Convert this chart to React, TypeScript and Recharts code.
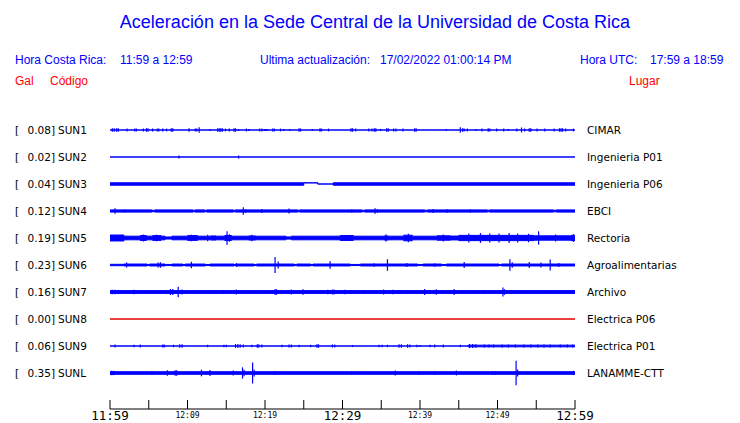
import React from 'react';
import { Area, ComposedChart, ErrorBar, Scatter, XAxis, YAxis } from 'recharts';

// estaciones, de arriba hacia abajo
const stations = ['SUN1', 'SUN2', 'SUN3', 'SUN4', 'SUN5', 'SUN6', 'SUN7', 'SUN8', 'SUN9', 'SUNL'];
const peaks = [0.08, 0.02, 0.04, 0.12, 0.19, 0.23, 0.16, 0.0, 0.06, 0.35];
const places = [
  'CIMAR', 'Ingenieria P01', 'Ingenieria P06', 'EBCI', 'Rectoria',
  'Agroalimentarias', 'Archivo', 'Electrica P06', 'Electrica P01', 'LANAMME-CTT',
];

// eje de tiempo: minutos desde 11:59
const tickMinutes = [0, 5, 10, 15, 20, 25, 30, 35, 40, 45, 50, 55, 60];
const tickLabels = ['11:59', '', '12:09', '', '12:19', '', '12:29', '', '12:39', '', '12:49', '', '12:59'];
const bigTickMinutes = [0, 30, 60];

// ruido de fondo: [minuto inicial, amplitud (gal), desplazamiento (gal)]
type Seg = [number, number, number?];
const sun1Band: Seg[] = [[0, 0]];
const sun2Band: Seg[] = [[0, 0]];
const sun3Band: Seg[] = [[0, 0.035], [25.0, 0, 0.033], [26.8, 0, 0], [28.8, 0.035]];
const sun4Band: Seg[] = [
  [0, 0.032], [5.4, 0.02], [5.8, 0.032], [10.7, 0.022], [11.0, 0.032], [12.2, 0.022], [12.5, 0.032],
  [15.9, 0.022], [16.2, 0.032], [24.2, 0.022], [24.5, 0.032], [32.5, 0.022], [32.9, 0.032],
  [40.6, 0.022], [41.0, 0.032], [48.7, 0.022], [49.0, 0.032], [57.2, 0.022], [57.6, 0.032],
];
const sun5Band: Seg[] = [
  [0, 0.085], [1.8, 0.052], [3.9, 0.07], [4.7, 0.052], [5.5, 0.068], [6.6, 0.052], [7.1, 0.03], [8.0, 0.052],
  [10.0, 0.068], [11.3, 0.052], [13.0, 0.06], [13.7, 0.052], [14.8, 0.07], [15.7, 0.052], [17.9, 0.06],
  [18.8, 0.052], [22.7, 0.032], [23.4, 0.052], [29.7, 0.07], [31.4, 0.052], [35.4, 0.06], [35.9, 0.052],
  [37.9, 0.08], [39.0, 0.052], [42.2, 0.064], [43.9, 0.055], [45.0, 0.075], [54.7, 0.062], [59.5, 0.075],
];
const sun6Band: Seg[] = [
  [0, 0.02], [1.8, 0.028], [4.8, 0.015], [5.1, 0.028], [7.1, 0.016], [8.0, 0.028], [9.4, 0.015], [9.7, 0.028],
  [12.3, 0.015], [12.9, 0.028], [16.0, 0.016], [16.3, 0.028], [18.6, 0.015], [18.9, 0.028], [23.8, 0.015],
  [24.1, 0.028], [25.9, 0.015], [26.2, 0.028], [31.0, 0.016], [32.3, 0.028], [39.7, 0.016], [40.4, 0.028],
  [42.8, 0.015], [43.4, 0.028], [50.2, 0.015], [50.5, 0.028],
];
const sun7Band: Seg[] = [[0, 0.04]];
const sun8Band: Seg[] = [[0, 0]];
const sun9Band: Seg[] = [[0, 0], [46.2, 0.024]];
const sunlBand: Seg[] = [[0, 0.045], [0.7, 0.037]];

// picos: [minuto, amplitud (gal)]
const sun1Spikes = [
  [0.3, 0.05], [0.55, 0.05], [0.85, 0.05], [1.07, 0.05], [2.2, 0.04], [3.2, 0.04], [3.4, 0.04], [4.3, 0.04],
  [4.7, 0.05], [4.9, 0.05], [5.5, 0.04], [6.1, 0.04], [6.3, 0.04], [6.8, 0.04], [7.3, 0.04], [7.9, 0.05],
  [8.1, 0.05], [10.2, 0.05], [11.0, 0.04], [11.2, 0.04], [11.5, 0.08], [12.9, 0.03], [13.9, 0.05],
  [14.1, 0.05], [14.3, 0.05], [14.5, 0.05], [14.9, 0.04], [15.4, 0.04], [16.0, 0.05], [16.2, 0.05],
  [16.6, 0.03], [17.6, 0.04], [17.9, 0.03], [19.3, 0.04], [19.6, 0.04], [19.9, 0.03], [20.1, 0.03],
  [20.3, 0.03], [21.0, 0.04], [21.2, 0.04], [22.0, 0.04], [22.4, 0.03], [23.2, 0.03], [24.4, 0.05],
  [24.6, 0.04], [26.1, 0.03], [27.1, 0.05], [27.3, 0.04], [28.2, 0.04], [31.1, 0.05], [31.3, 0.05],
  [31.7, 0.04], [33.4, 0.04], [33.8, 0.04], [34.1, 0.05], [34.3, 0.05], [34.9, 0.03], [35.7, 0.05],
  [35.9, 0.05], [36.6, 0.04], [36.9, 0.04], [37.8, 0.04], [39.3, 0.05], [39.5, 0.05], [43.4, 0.03],
  [45.2, 0.08], [45.5, 0.05], [45.7, 0.04], [46.1, 0.04], [47.2, 0.03], [48.0, 0.04], [48.8, 0.05],
  [49.0, 0.04], [49.9, 0.04], [50.8, 0.04], [51.4, 0.03], [52.5, 0.04], [53.1, 0.07], [53.5, 0.04],
  [54.1, 0.05], [54.3, 0.05], [55.1, 0.04], [56.1, 0.04], [57.3, 0.04], [58.0, 0.05], [58.2, 0.05],
  [58.4, 0.05], [58.8, 0.04], [59.8, 0.04],
];
const sun2Spikes = [[8.9, 0.04], [16.6, 0.04]];
const sun3Spikes: number[][] = [];
const sun4Spikes = [
  [0.65, 0.08], [1.9, 0.045], [17.2, 0.105], [17.5, 0.05], [19.6, 0.06], [23.1, 0.07], [31.2, 0.045],
  [34.2, 0.077], [34.5, 0.05], [41.7, 0.055], [43.5, 0.05], [46.5, 0.045],
];
const sun5Spikes = [
  [4.3, 0.1], [6.0, 0.095], [10.5, 0.095], [12.6, 0.09], [15.1, 0.19], [15.4, 0.11], [18.3, 0.09],
  [35.6, 0.1], [38.5, 0.12], [43.0, 0.1], [46.3, 0.13], [47.8, 0.14], [49.0, 0.13], [50.2, 0.13],
  [51.5, 0.14], [52.6, 0.13], [54.0, 0.12], [55.3, 0.19], [57.5, 0.1], [59.8, 0.11],
];
const sun6Spikes = [
  [2.15, 0.07], [6.2, 0.07], [6.5, 0.075], [10.5, 0.09], [16.3, 0.055], [21.3, 0.23], [21.7, 0.1],
  [28.4, 0.11], [34.1, 0.05], [35.8, 0.165], [38.3, 0.06], [41.9, 0.05], [45.7, 0.085], [51.6, 0.165],
  [51.9, 0.08], [54.1, 0.085], [55.6, 0.07], [56.8, 0.16], [57.9, 0.06],
];
const sun7Spikes = [
  [0.3, 0.065], [0.65, 0.065], [1.1, 0.06], [3.1, 0.065], [5.1, 0.055], [5.7, 0.05], [7.8, 0.085],
  [8.1, 0.085], [8.8, 0.15], [9.3, 0.07], [9.7, 0.05], [11.3, 0.05], [12.3, 0.05], [13.4, 0.055],
  [14.6, 0.055], [16.3, 0.07], [18.2, 0.05], [20.1, 0.05], [21.3, 0.085], [21.5, 0.08], [23.4, 0.07],
  [24.9, 0.075], [25.4, 0.05], [26.5, 0.05], [28.1, 0.065], [28.7, 0.07], [28.9, 0.07], [30.3, 0.065],
  [32.8, 0.05], [34.3, 0.05], [35.3, 0.07], [36.5, 0.065], [37.4, 0.05], [38.3, 0.05], [39.4, 0.05],
  [40.6, 0.085], [42.1, 0.075], [44.4, 0.085], [45.4, 0.05], [46.9, 0.05], [48.2, 0.05], [49.4, 0.05],
  [50.7, 0.13], [50.9, 0.08], [53.1, 0.05], [55.3, 0.05], [56.8, 0.05], [58.1, 0.05],
];
const sun8Spikes: number[][] = [];
const sun9Spikes = [
  [0.65, 0.04], [3.1, 0.035], [3.9, 0.04], [6.8, 0.04], [7.0, 0.04], [8.2, 0.035], [9.0, 0.05], [9.3, 0.05],
  [12.6, 0.035], [14.7, 0.035], [15.0, 0.035], [16.2, 0.055], [16.5, 0.055], [16.8, 0.05], [17.2, 0.04],
  [18.3, 0.035], [19.0, 0.05], [19.2, 0.05], [19.6, 0.045], [22.2, 0.035], [23.1, 0.045], [23.4, 0.04],
  [24.4, 0.035], [25.9, 0.035], [26.7, 0.05], [26.9, 0.05], [28.7, 0.045], [29.0, 0.045], [31.3, 0.03],
  [34.7, 0.035], [35.1, 0.035], [35.8, 0.035], [37.3, 0.05], [37.6, 0.05], [38.4, 0.05], [38.7, 0.045],
  [39.6, 0.035], [40.0, 0.03], [41.3, 0.035], [41.9, 0.04], [43.0, 0.04], [45.2, 0.035], [46.4, 0.06],
  [46.8, 0.055], [47.2, 0.05], [48.3, 0.045], [48.9, 0.045], [49.5, 0.045], [50.6, 0.04], [51.4, 0.045],
  [52.3, 0.045], [53.4, 0.04], [54.3, 0.04], [55.2, 0.045], [56.0, 0.045], [56.8, 0.04], [58.1, 0.04],
  [59.0, 0.04], [59.7, 0.045],
];
const sunlSpikes = [
  [0.2, 0.06], [5.4, 0.05], [7.4, 0.075], [8.4, 0.075], [8.6, 0.075], [11.8, 0.095], [12.9, 0.085],
  [15.9, 0.07], [17.1, 0.16], [17.3, 0.09], [18.4, 0.3], [18.6, 0.1], [21.3, 0.055], [31.2, 0.05],
  [36.8, 0.07], [39.9, 0.05], [41.9, 0.05], [44.7, 0.07], [49.3, 0.05], [49.7, 0.05], [52.4, 0.35],
  [52.6, 0.1], [59.8, 0.06],
];

const bands = [sun1Band, sun2Band, sun3Band, sun4Band, sun5Band, sun6Band, sun7Band, sun8Band, sun9Band, sunlBand];
const spikes = [sun1Spikes, sun2Spikes, sun3Spikes, sun4Spikes, sun5Spikes, sun6Spikes, sun7Spikes, sun8Spikes, sun9Spikes, sunlSpikes];

const ROW_GAP = 0.77; // separación entre trazas, en gal
const BLUE = '#0000ff';
const RED = '#e00000';
const TOP = 103;

const rowCenter = (i: number) => (stations.length - 1 - i) * ROW_GAP;

function bandRows(segs: Seg[], c: number) {
  const rows = segs.map(([t, a, s = 0]) => ({ t, band: [c + s - a, c + s + a] }));
  const [, la, ls = 0] = segs[segs.length - 1];
  rows.push({ t: 60, band: [c + ls - la, c + ls + la] });
  return rows;
}

function TimeTick(props: any) {
  const { x, y, payload } = props;
  const idx = tickMinutes.indexOf(payload.value);
  const label = tickLabels[idx];
  const big = bigTickMinutes.includes(payload.value);
  return (
    <g>
      <line x1={x} x2={x} y1={y - 9} y2={y} stroke="#000" />
      {label && (
        <text
          x={x}
          y={y + (big ? 11 : 8.5)}
          textAnchor="middle"
          fontFamily="DejaVu Sans Mono"
          fontSize={big ? 12.5 : 8}
          fill="#000"
        >
          {label}
        </text>
      )}
    </g>
  );
}

const head: React.CSSProperties = {
  position: 'absolute',
  fontFamily: '"Liberation Sans", Arial, sans-serif',
  fontSize: 12,
  lineHeight: '12px',
  whiteSpace: 'pre',
  color: BLUE,
};
const lab: React.CSSProperties = {
  position: 'absolute',
  fontFamily: '"DejaVu Sans", sans-serif',
  fontSize: 10.5,
  lineHeight: '10.5px',
  whiteSpace: 'pre',
  color: '#000',
};

export default function App() {
  return (
    <div style={{ position: 'absolute', left: 0, top: 0, width: 740, height: 423, background: '#fff' }}>
      <div
        style={{
          ...head,
          fontSize: 18,
          lineHeight: '18px',
          top: 13,
          left: 0,
          width: 750,
          textAlign: 'center',
        }}
      >
        Aceleración en la Sede Central de la Universidad de Costa Rica
      </div>
      <div style={{ ...head, top: 54, left: 15 }}>Hora Costa Rica:</div>
      <div style={{ ...head, top: 54, left: 120 }}>11:59 a 12:59</div>
      <div style={{ ...head, top: 54, left: 260 }}>Ultima actualización:</div>
      <div style={{ ...head, top: 54, left: 380 }}>17/02/2022 01:00:14 PM</div>
      <div style={{ ...head, top: 54, left: 580 }}>Hora UTC:</div>
      <div style={{ ...head, top: 54, left: 650 }}>17:59 a 18:59</div>
      <div style={{ ...head, top: 75, left: 15, color: '#ff0000' }}>Gal</div>
      <div style={{ ...head, top: 75, left: 50, color: '#ff0000' }}>Código</div>
      <div style={{ ...head, top: 75, left: 629, color: '#ff0000' }}>Lugar</div>

      {stations.map((s, i) => {
        const y = 130 + 27 * i - 5;
        return (
          <React.Fragment key={s}>
            <div style={{ ...lab, top: y, left: 15 }}>[</div>
            <div style={{ ...lab, top: y, left: 15, width: 40, textAlign: 'right' }}>{peaks[i].toFixed(2)}]</div>
            <div style={{ ...lab, top: y, left: 58 }}>{s}</div>
            <div style={{ ...lab, top: y, left: 587 }}>{places[i]}</div>
          </React.Fragment>
        );
      })}

      <div style={{ position: 'absolute', left: 0, top: 0 }}>
        <ComposedChart width={740} height={423} margin={{ top: TOP, right: 165, bottom: 0, left: 110 }}>
          <XAxis
            dataKey="t"
            type="number"
            domain={[0, 60]}
            allowDataOverflow
            ticks={tickMinutes}
            interval={0}
            height={14}
            tickSize={0}
            tickMargin={0}
            tickLine={false}
            axisLine={{ stroke: '#000' }}
            tick={<TimeTick />}
          />
          <YAxis
            hide
            type="number"
            domain={[-(36 / 27) * ROW_GAP, 10 * ROW_GAP]}
            allowDataOverflow
          />
          {bands.map((b, i) => {
            const color = peaks[i] === 0 ? RED : BLUE;
            return (
              <Area
                key={'band' + i}
                data={bandRows(b, rowCenter(i))}
                dataKey="band"
                type="stepAfter"
                stroke={color}
                strokeWidth={1}
                fill={color}
                fillOpacity={1}
                dot={false}
                activeDot={false}
                isAnimationActive={false}
              />
            );
          })}
          {spikes.map((sp, i) => (
            <Scatter
              key={'sp' + i}
              data={sp.map(([t, e]) => ({ t, y: rowCenter(i), e }))}
              dataKey="y"
              shape={() => <g />}
              isAnimationActive={false}
            >
              <ErrorBar dataKey="e" direction="y" width={0} stroke={BLUE} strokeWidth={1.2} isAnimationActive={false} />
            </Scatter>
          ))}
        </ComposedChart>
      </div>
    </div>
  );
}
